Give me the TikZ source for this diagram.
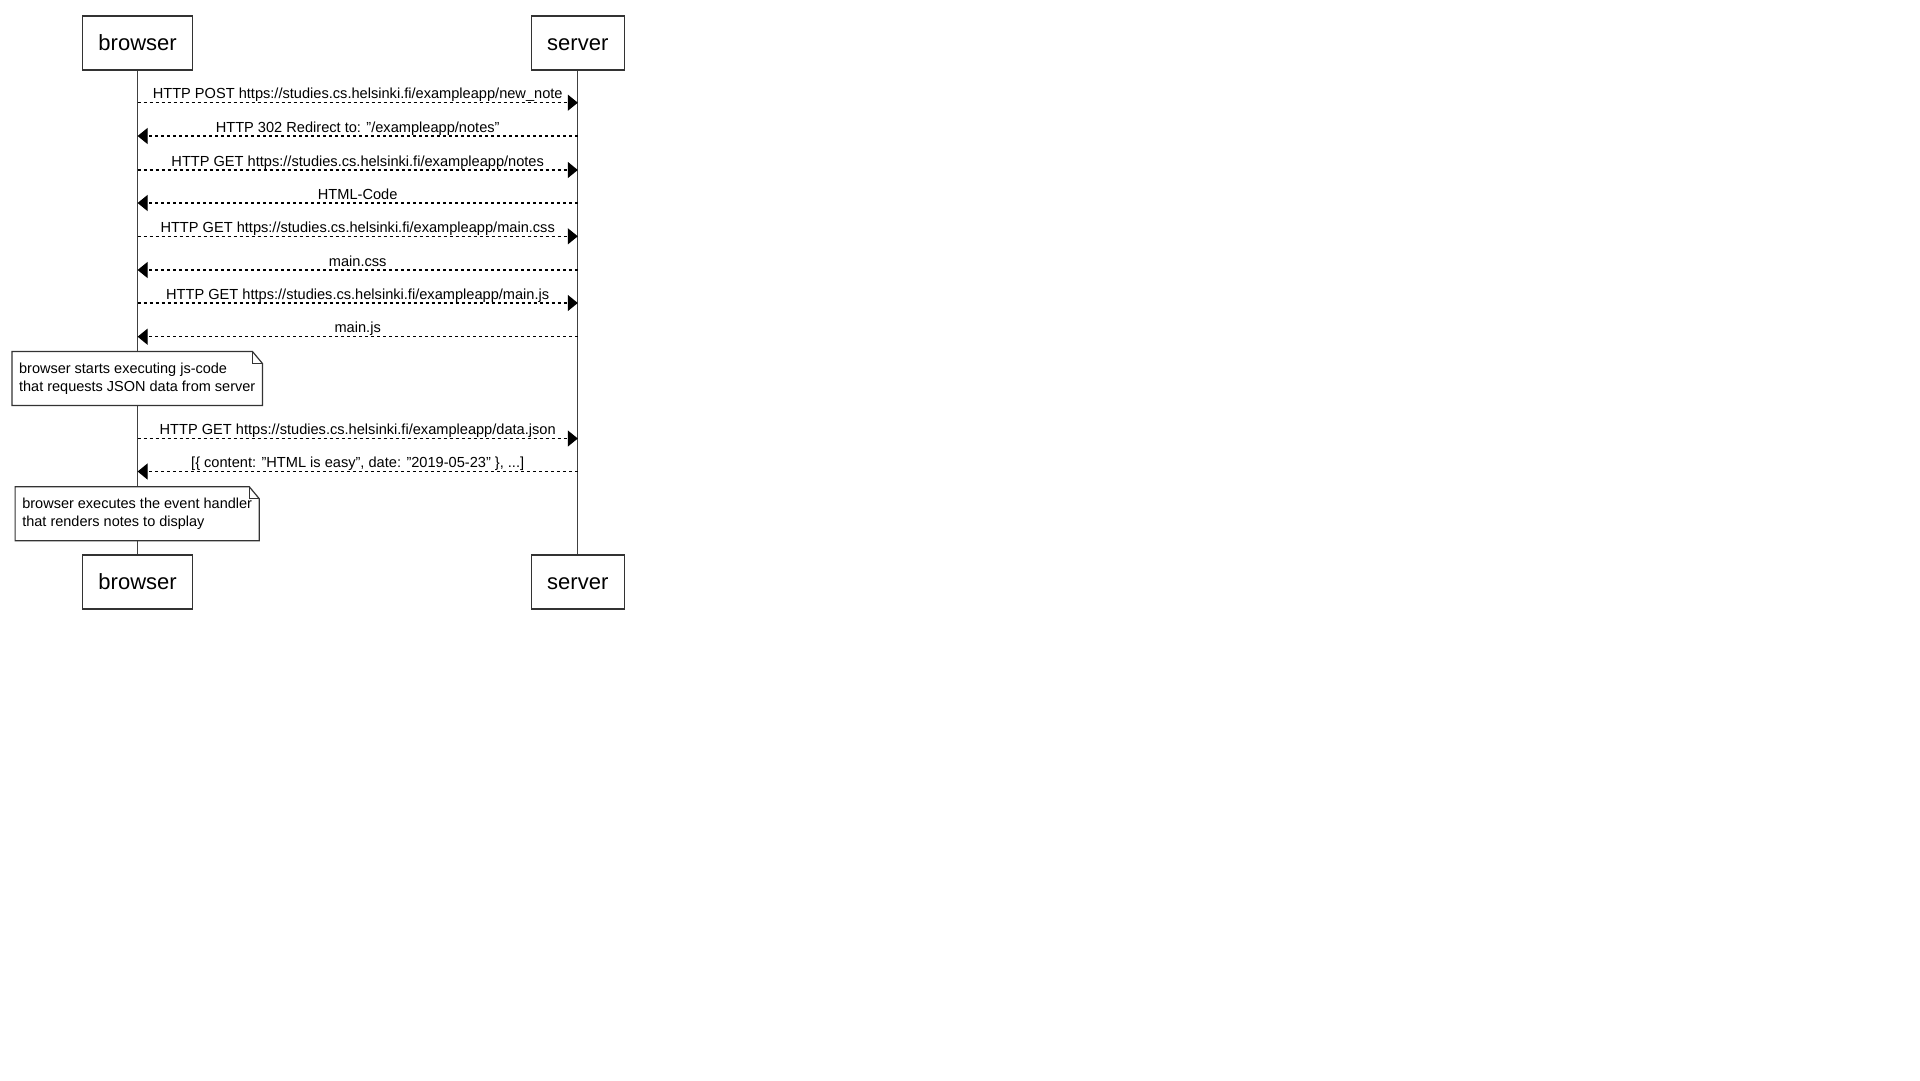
\documentclass[tikz,border=0pt]{standalone}
\usepackage{fontspec}
\setmainfont{Liberation Sans}
\usetikzlibrary{arrows.meta,positioning}

\tikzset{
  actor/.style={draw=black!80, fill=white, line width=1.2pt, minimum height=54pt,
    inner xsep=16pt, text height=15.8pt, text depth=0pt, font=\fontsize{22}{26}\selectfont},
  lifeline/.style={draw=black!75, line width=1.2pt},
  request/.style={line width=1.2pt, dash pattern=on 3pt off 3pt,
    -{Triangle[length=10pt,width=16pt]}},
  reply/.style={request},
  msg/.style={midway, anchor=base, yshift=4pt, inner sep=0pt,
    font=\fontsize{14.6}{17.5}\selectfont},
  notebox/.style={fill=white, align=left, inner xsep=7pt, minimum height=53.6pt,
    font=\fontsize{14.5}{17.5}\selectfont},
  notefold/.style={draw=black!80, line width=1.2pt}
}

\begin{document}
\begin{tikzpicture}[x=1pt, y=-1pt]
\useasboundingbox (0,0) rectangle (1920,1080);

% actors
\node[actor] (browserTop) at (137.6,43) {browser};
\node[actor] (serverTop) at (577.8,43) {server};
\node[actor] (browserBot) at (137.6,582) {browser};
\node[actor] (serverBot) at (577.8,582) {server};

% lifelines
\draw[lifeline] (browserTop) -- (browserBot);
\draw[lifeline] (serverTop) -- (serverBot);

\foreach \i/\y in {1/102.7, 2/136, 3/170, 4/203, 5/236.3, 6/270, 7/303, 8/336.7, 9/438.5, 10/471.5} {
  \coordinate (b\i) at (browserTop |- 0,\y);
  \coordinate (s\i) at (serverTop |- 0,\y);
}

% browser -> server
\foreach \i/\txt in {1/{HTTP POST https://studies.cs.helsinki.fi/exampleapp/new\_note},
                     3/{HTTP GET https://studies.cs.helsinki.fi/exampleapp/notes},
                     5/{HTTP GET https://studies.cs.helsinki.fi/exampleapp/main.css},
                     7/{HTTP GET https://studies.cs.helsinki.fi/exampleapp/main.js},
                     9/{HTTP GET https://studies.cs.helsinki.fi/exampleapp/data.json}} {
  \draw[request] (b\i) -- (s\i) node[msg] {\txt};
}
% server -> browser
\foreach \i/\txt in {2/{HTTP 302 Redirect to: "/exampleapp/notes"},
                     4/{HTML-Code},
                     6/{main.css},
                     8/{main.js},
                     10/{[\{ content: "HTML is easy", date: "2019-05-23" \}, ...]}} {
  \draw[reply] (s\i) -- (b\i) node[msg] {\txt};
}

% notes
\node[notebox] (note1) at (137.2,378.5) {browser starts executing js-code\\that requests JSON data from server};
\draw[notefold] (note1.north west) -- ([xshift=-10pt]note1.north east) -- ([yshift=-12pt]note1.north east)
  -- (note1.south east) -- (note1.south west) -- cycle;
\draw[notefold] ([xshift=-10pt]note1.north east) |- ([yshift=-12pt]note1.north east);

\node[notebox] (note2) at (137.2,513.7) {browser executes the event handler\\that renders notes to display};
\draw[notefold] (note2.north west) -- ([xshift=-10pt]note2.north east) -- ([yshift=-12pt]note2.north east)
  -- (note2.south east) -- (note2.south west) -- cycle;
\draw[notefold] ([xshift=-10pt]note2.north east) |- ([yshift=-12pt]note2.north east);
\end{tikzpicture}
\end{document}
